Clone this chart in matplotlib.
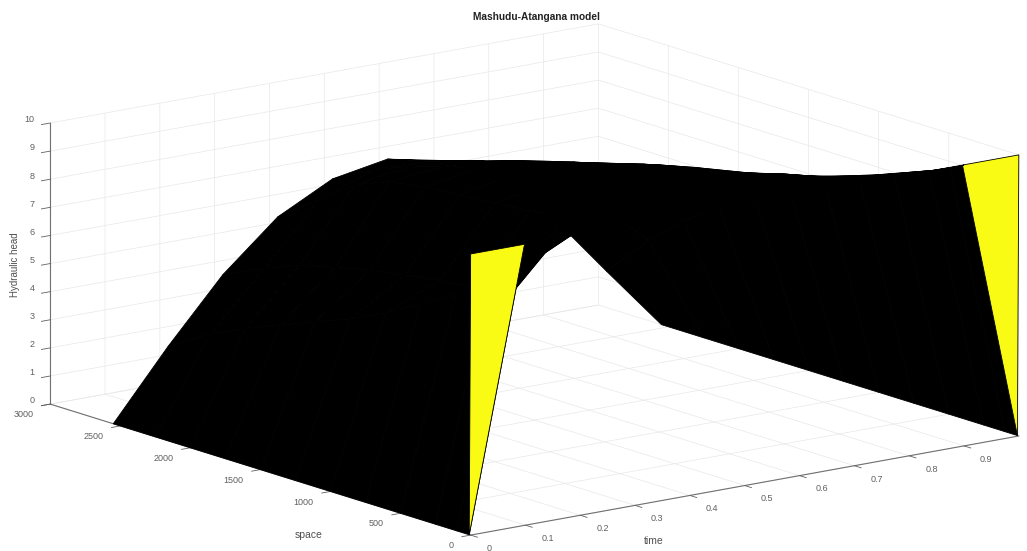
import numpy as np
import matplotlib
matplotlib.use("Agg")
import matplotlib.pyplot as plt
from matplotlib.transforms import ScaledTranslation

plt.rcParams['font.family'] = ['Liberation Sans', 'DejaVu Sans']

TITLE = "Mashudu-Atangana model"
time_vals = [0, 0.1, 0.2, 0.3, 0.4, 0.5, 0.6, 0.7, 0.8, 0.9, 1.0]
space_vals = [0, 10, 100, 250, 500, 750, 1000, 1250, 1500, 1750, 2000, 2250, 2550]

head_t00 = [10, 0, 0, 0, 0, 0, 0, 0, 0, 0, 0, 0, 0]
head_t01 = [10, 9.9, 9.3, 8.5, 7.4, 6.7, 6.0, 5.4, 4.9, 4.4, 3.9, 3.3, 2.4]
head_t02 = [10, 10, 9.85, 8.95, 7.05, 6.9, 6.8, 6.6, 6.4, 6.1, 5.8, 5.3, 4.6]
head_t03 = [10, 10, 9.95, 9.9, 9.5, 9.3, 9.2, 9.1, 9.0, 8.8, 8.3, 7.4, 6.3]
head_t04 = [10, 9.95, 9.92, 9.9, 9.8, 9.7, 9.6, 9.5, 9.3, 9.0, 8.6, 8.1, 7.3]
head_t05 = [10, 10, 10, 10, 10, 10, 9.9, 9.5, 9.15, 8.8, 8.4, 8.05, 7.65]
head_t06 = [10, 10, 10, 10, 10, 9.8, 9.5, 9.15, 8.8, 8.4, 8.1, 7.7, 7.25]
head_t07 = [10, 10, 10, 9.9, 9.6, 9.25, 8.95, 8.7, 8.4, 8.0, 7.7, 7.0, 6.3]
head_t08 = [10, 10, 9.85, 9.6, 9.1, 8.8, 8.4, 8.0, 7.5, 7.0, 6.4, 5.6, 4.55]
head_t09 = [10, 9.95, 9.7, 9.4, 8.9, 8.4, 7.9, 7.3, 6.6, 5.8, 4.9, 3.8, 2.25]
head_t10 = [10, 0, 0, 0, 0, 0, 0, 0, 0, 0, 0, 0, 0]

time_ticks = [0, 0.1, 0.2, 0.3, 0.4, 0.5, 0.6, 0.7, 0.8, 0.9]
time_labels = ['0', '0.1', '0.2', '0.3', '0.4', '0.5', '0.6', '0.7', '0.8', '0.9']
space_ticks = [0, 500, 1000, 1500, 2000, 2500, 3000]
head_ticks = list(range(11))

H = np.array([head_t00, head_t01, head_t02, head_t03, head_t04, head_t05,
              head_t06, head_t07, head_t08, head_t09, head_t10], float)
T, S = np.meshgrid(time_vals, space_vals, indexing='ij')

BLACK = (0, 0, 0, 1)
YELLOW = (0.976, 0.984, 0.078, 1)
colors = np.empty(H.shape + (4,))
colors[:] = BLACK
colors[0, 0] = YELLOW
colors[-2, 0] = YELLOW

W, Hh = 1027, 551
fig = plt.figure(figsize=(W / 100, Hh / 100), dpi=100, facecolor='white')
L = 1000
cx, cy = 521, Hh - 293
ax = fig.add_axes([(cx - L / 2) / W, (cy - L / 2) / Hh, L / W, L / Hh], projection='3d')
ax.set_proj_type('ortho')
ax.view_init(elev=13.73, azim=-127.3)
ax.set_box_aspect((688.7, 693.4, 289.2), zoom=0.99)

ax.plot_surface(T, S, H, facecolors=colors, shade=False, rstride=1, cstride=1,
                edgecolor='k', linewidth=0.6, antialiased=True)

ax.set_xlim(0, 1)
ax.set_ylim(0, 3000)
ax.set_zlim(0, 10)
ax.set_xticks(time_ticks)
ax.set_xticklabels(time_labels)
ax.set_yticks(space_ticks)
ax.set_zticks(head_ticks)

for axis in (ax.xaxis, ax.yaxis, ax.zaxis):
    axis.set_pane_color((1, 1, 1, 0))
    axis.pane.set_edgecolor('#e8e8e8')
    axis.pane.set_linewidth(0.6)
    axis.line.set_color('#707070')
    axis.line.set_linewidth(0.8)
    axis._axinfo['grid'].update(color='#e8e8e8', linewidth=0.5)
    axis._axinfo['tick'].update(inward_factor=0.2, outward_factor=0.0,
                                linewidth={True: 0.6, False: 0.6})
    axis.set_tick_params(labelsize=6.5, colors='#606060', pad=0)


def nudge(axis, ha, dx_px, dy_px):
    """Anchor tick labels and shift them in screen pixels (y up).

    Axis3D.get_major_ticks resets each transform on every call, so wrap it.
    """
    off = ScaledTranslation(dx_px / 100, dy_px / 100, fig.dpi_scale_trans)
    base = axis.get_major_ticks

    def get_major_ticks(numticks=None):
        ticks = base(numticks)
        for tick in ticks:
            tick.label1.set_ha(ha)
            tick.label1.set_transform(ax.transData + off)
        return ticks

    axis.get_major_ticks = get_major_ticks


nudge(ax.xaxis, 'left', 7, 0)
nudge(ax.yaxis, 'right', -5, 2)
nudge(ax.zaxis, 'right', 5, 7)

label_color = '#505050'
fig.text(654 / W, 1 - 541 / Hh, 'time', ha='center', va='center', fontsize=7.5, color=label_color)
fig.text(309 / W, 1 - 535 / Hh, 'space', ha='center', va='center', fontsize=7.5, color=label_color)
fig.text(15 / W, 1 - 265 / Hh, 'Hydraulic head', ha='center', va='center', fontsize=7,
         rotation=90, color=label_color)
fig.text(536 / W, 1 - 17 / Hh, TITLE, ha='center', va='center', fontsize=7.3,
         fontweight='bold', color='#222222')
fig.savefig('out.png', dpi=100)
